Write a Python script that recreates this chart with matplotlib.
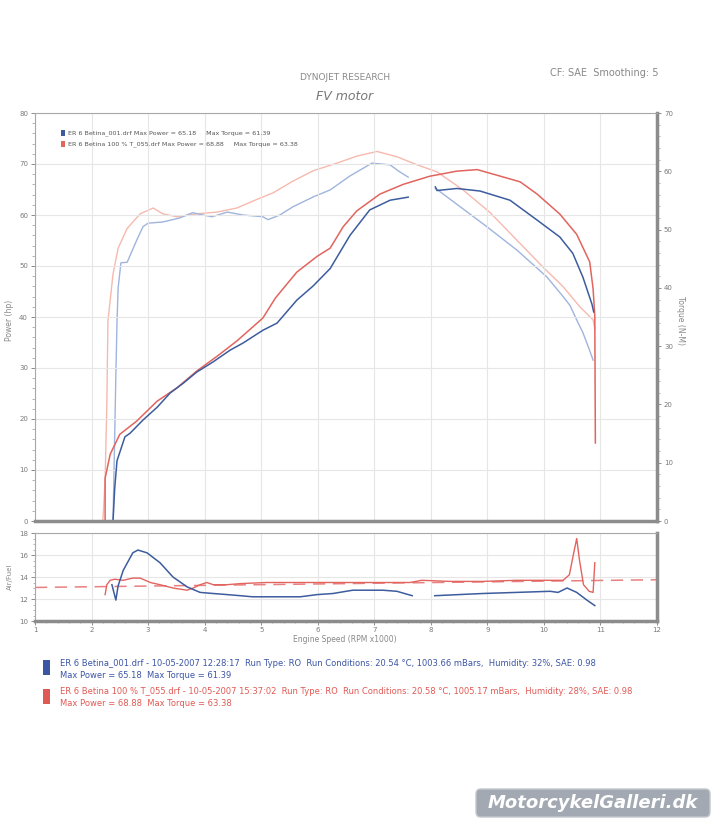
import numpy as np
import matplotlib
matplotlib.use("Agg")
import matplotlib.pyplot as plt
from matplotlib.patches import FancyBboxPatch, Rectangle
from matplotlib.ticker import MultipleLocator

# ---- data (rpm x1000) ----
blue_power_rpm = [2.38, 2.41, 2.45, 2.59, 2.68, 2.91, 3.16, 3.39, 3.62, 3.86, 4.15, 4.45, 4.68, 5.03, 5.28,
                  5.63, 5.92, 6.22, 6.57, 6.92, 7.28, 7.60]
blue_power_hp = [0, 6.5, 11.8, 16.5, 17.2, 19.8, 22.3, 25.1, 27.0, 29.2, 31.2, 33.5, 34.9, 37.4, 38.8,
                 43.3, 46.1, 49.5, 56.0, 61.0, 62.9, 63.5]
blue_power2_rpm = [8.08, 8.11, 8.46, 8.87, 9.40, 9.88, 10.28, 10.51, 10.69, 10.85, 10.88]
blue_power2_hp = [65.5, 64.8, 65.2, 64.7, 62.9, 59.0, 55.7, 52.5, 47.8, 42.5, 41.0]

red_power_rpm = [2.24, 2.24, 2.33, 2.50, 2.80, 3.16, 3.51, 3.86, 4.22, 4.57, 5.03, 5.25, 5.63, 5.99, 6.22,
                 6.45, 6.69, 7.10, 7.51, 7.98, 8.46, 8.82, 9.17, 9.58, 9.88, 10.28, 10.58, 10.81, 10.87,
                 10.90, 10.91]
red_power_hp = [0, 8.4, 13.1, 17.0, 19.6, 23.5, 26.1, 29.4, 32.3, 35.3, 39.8, 43.7, 48.8, 51.9, 53.5,
                57.7, 60.8, 64.1, 66.0, 67.6, 68.6, 68.9, 67.8, 66.5, 64.1, 60.2, 56.2, 50.8, 45.5,
                40.2, 15.3]

blue_torque_rpm = [2.38, 2.40, 2.43, 2.45, 2.47, 2.52, 2.63, 2.80, 2.91, 3.00, 3.26, 3.56, 3.79, 3.97, 4.13,
                   4.40, 4.68, 5.03, 5.12, 5.33, 5.56, 5.92, 6.22, 6.57, 6.96, 7.28, 7.45, 7.60]
blue_torque_nm = [0, 10, 25, 34, 40, 44.3, 44.4, 48.2, 50.5, 51.1, 51.3, 52.0, 52.9, 52.5, 52.2,
                  53.0, 52.5, 52.2, 51.7, 52.5, 53.9, 55.6, 56.8, 59.2, 61.4, 61.1, 59.9, 59.0]
blue_torque2_rpm = [8.08, 8.99, 9.52, 10.05, 10.34, 10.46, 10.58, 10.69, 10.80, 10.87]
blue_torque2_nm = [57.1, 50.5, 46.5, 41.9, 38.5, 37.0, 34.5, 32.3, 29.5, 27.6]

red_torque_rpm = [2.20, 2.24, 2.27, 2.29, 2.38, 2.47, 2.63, 2.86, 3.09, 3.26, 3.51, 3.86, 4.22, 4.57, 4.93,
                  5.21, 5.56, 5.92, 6.34, 6.69, 7.05, 7.40, 7.76, 8.11, 8.57, 9.05, 9.52, 9.98, 10.34,
                  10.64, 10.87, 10.90]
red_torque_nm = [0, 7, 20, 34.3, 42.4, 46.8, 50.2, 52.7, 53.7, 52.7, 52.2, 52.7, 53.0, 53.7, 55.2,
                 56.3, 58.3, 60.1, 61.4, 62.6, 63.4, 62.5, 61.1, 59.9, 56.8, 52.9, 48.2, 43.6, 40.2,
                 36.7, 34.5, 33.0]

blue_afr_rpm = [2.36, 2.43, 2.47, 2.56, 2.73, 2.82, 2.98, 3.21, 3.44, 3.69, 3.92, 4.15, 4.40, 4.63, 4.85,
                5.10, 5.39, 5.69, 5.99, 6.27, 6.62, 7.15, 7.40, 7.67]
blue_afr = [13.3, 11.9, 13.2, 14.6, 16.2, 16.45, 16.2, 15.3, 14.0, 13.1, 12.6, 12.5, 12.4, 12.3, 12.2,
            12.2, 12.2, 12.2, 12.4, 12.5, 12.8, 12.8, 12.7, 12.3]
blue_afr2_rpm = [8.07, 8.92, 9.52, 10.11, 10.25, 10.41, 10.58, 10.76, 10.90]
blue_afr2 = [12.3, 12.5, 12.6, 12.7, 12.6, 13.0, 12.6, 11.9, 11.4]

red_afr_rpm = [2.24, 2.27, 2.33, 2.41, 2.56, 2.73, 2.86, 3.04, 3.21, 3.44, 3.69, 3.80, 3.92, 4.04, 4.15,
               4.40, 4.63, 5.10, 5.69, 6.27, 6.62, 7.15, 7.63, 7.84, 8.34, 8.92, 9.52, 10.11, 10.34,
               10.45, 10.52, 10.58, 10.63, 10.70, 10.80, 10.87, 10.90]
red_afr = [12.4, 13.3, 13.7, 13.8, 13.7, 13.9, 13.9, 13.5, 13.3, 13.0, 12.8, 13.0, 13.3, 13.5, 13.3,
           13.3, 13.4, 13.5, 13.5, 13.5, 13.5, 13.5, 13.5, 13.7, 13.6, 13.6, 13.7, 13.7, 13.7,
           14.2, 16.0, 17.5, 15.5, 13.3, 12.7, 12.6, 15.3]

target_rpm = [1, 12]
target_afr = [13.05, 13.75]

power_ticks = np.arange(0, 81, 10)
torque_ticks = np.arange(0, 71, 10)
afr_ticks = np.arange(10, 19, 2)
rpm_ticks = np.arange(1, 13, 1)

W, H = 728, 836
fig = plt.figure(figsize=(W / 100, H / 100), dpi=100)
fig.patch.set_facecolor("white")

def fx(px):
    return px / W

def fy(py):
    return 1 - py / H

tick_col = "#7a7a7a"
grid_col = "#e6e6e6"

c_bp = "#3d5c9e"
c_bt = "#9fb4de"
c_rp = "#e2645e"
c_rt = "#f6b9ae"

# ---- upper panel: power / torque ----
ax = fig.add_axes([fx(35), fy(521), fx(657 - 35), (521 - 113) / H])
ax.set_xlim(1, 12)
ax.set_ylim(0, 80)
ax.set_yticks(power_ticks)
ax.yaxis.set_minor_locator(MultipleLocator(2))
ax.set_xticks(rpm_ticks)
ax.set_xticklabels([])
ax.tick_params(axis="x", length=0)
ax.tick_params(axis="y", labelsize=5, colors=tick_col, length=3, width=0.6, pad=2)
ax.tick_params(axis="y", which="minor", length=2, width=0.5, colors="#999999")
ax.grid(True, color=grid_col, linewidth=0.8)
ax.set_axisbelow(True)
for s in ["top", "left"]:
    ax.spines[s].set_color("#a8a8a8")
    ax.spines[s].set_linewidth(0.8)
for s in ["bottom", "right"]:
    ax.spines[s].set_color("#8c8c8c")
    ax.spines[s].set_linewidth(2.5)

ax2 = ax.twinx()
ax2.set_ylim(0, 70)
ax2.set_yticks(torque_ticks)
ax2.yaxis.set_minor_locator(MultipleLocator(2))
ax2.tick_params(axis="y", labelsize=5, colors=tick_col, length=3, width=0.6, pad=2)
ax2.tick_params(axis="y", which="minor", length=2, width=0.5, colors="#999999")
for s in ax2.spines.values():
    s.set_visible(False)

ax2.plot(red_torque_rpm, red_torque_nm, color=c_rt, lw=1.0)
ax2.plot(blue_torque_rpm, blue_torque_nm, color=c_bt, lw=1.0)
ax2.plot(blue_torque2_rpm, blue_torque2_nm, color=c_bt, lw=1.0)
ax.plot(red_power_rpm, red_power_hp, color=c_rp, lw=1.1)
ax.plot(blue_power_rpm, blue_power_hp, color=c_bp, lw=1.1)
ax.plot(blue_power2_rpm, blue_power2_hp, color=c_bp, lw=1.1)
ax.set_zorder(ax2.get_zorder() + 1)
ax.patch.set_visible(False)

# legend inside the plot
leg_items = [("ER 6 Betina_001.drf Max Power = 65.18     Max Torque = 61.39", c_bp),
             ("ER 6 Betina 100 % T_055.drf Max Power = 68.88     Max Torque = 63.38", c_rp)]
for i, (txt, col) in enumerate(leg_items):
    yy = fy(133 + i * 11)
    fig.patches.append(Rectangle((fx(61), yy - 0.0035), fx(4), 0.0075, transform=fig.transFigure,
                                 facecolor=col, edgecolor="none"))
    fig.text(fx(68), yy, txt, fontsize=4.6, color="#555555", va="center")

# ---- lower panel: air / fuel ----
axl = fig.add_axes([fx(35), fy(621), fx(657 - 35), (621 - 533) / H])
axl.set_xlim(1, 12)
axl.set_ylim(10, 18)
axl.set_yticks(afr_ticks)
axl.yaxis.set_minor_locator(MultipleLocator(0.5))
axl.set_xticks(rpm_ticks)
axl.xaxis.set_minor_locator(MultipleLocator(0.2))
axl.tick_params(labelsize=5, colors=tick_col, length=3, width=0.6, pad=2)
axl.tick_params(axis="x", pad=1.5)
axl.tick_params(which="minor", length=1.5, width=0.5, colors="#999999")
axl.grid(True, color=grid_col, linewidth=0.8)
axl.set_axisbelow(True)
for s in ["top", "left"]:
    axl.spines[s].set_color("#a8a8a8")
    axl.spines[s].set_linewidth(0.8)
for s in ["bottom", "right"]:
    axl.spines[s].set_color("#8c8c8c")
    axl.spines[s].set_linewidth(2.5)

axl.plot(target_rpm, target_afr, color="#e88080", lw=1.1, ls=(0, (8, 5)))
axl.plot(red_afr_rpm, red_afr, color=c_rp, lw=1.0)
axl.plot(blue_afr_rpm, blue_afr, color=c_bp, lw=1.1)
axl.plot(blue_afr2_rpm, blue_afr2, color=c_bp, lw=1.1)

# ---- labels and titles ----
fig.text(fx(345), fy(78), "DYNOJET RESEARCH", fontsize=6.5, color="#8a8a8a", ha="center", va="center")
fig.text(fx(345), fy(96), "FV motor", fontsize=9, style="italic", color="#777777", ha="center", va="center")
fig.text(fx(658), fy(73), "CF: SAE  Smoothing: 5", fontsize=7, color="#888888", ha="right", va="center")
fig.text(fx(10), fy(320), "Power (hp)", fontsize=5.5, color="#888888", rotation=90, ha="center", va="center")
fig.text(fx(680), fy(320), "Torque (N-M)", fontsize=5.5, color="#888888", rotation=-90, ha="center", va="center")
fig.text(fx(10), fy(577), "Air/Fuel", fontsize=5, color="#888888", rotation=90, ha="center", va="center")
fig.text(fx(345), fy(639), "Engine Speed (RPM x1000)", fontsize=5.5, color="#888888", ha="center", va="center")

# ---- run info below the chart ----
runs = [
    ("ER 6 Betina_001.drf - 10-05-2007 12:28:17  Run Type: RO  Run Conditions: 20.54 \u00b0C, 1003.66 mBars,  Humidity: 32%, SAE: 0.98",
     "Max Power = 65.18  Max Torque = 61.39", "#3b55a5", 663),
    ("ER 6 Betina 100 % T_055.drf - 10-05-2007 15:37:02  Run Type: RO  Run Conditions: 20.58 \u00b0C, 1005.17 mBars,  Humidity: 28%, SAE: 0.98",
     "Max Power = 68.88  Max Torque = 63.38", "#e05a55", 692),
]
for line1, line2, col, py in runs:
    fig.patches.append(Rectangle((fx(43), fy(py + 12)), fx(7), 15 / H, transform=fig.transFigure,
                                 facecolor=col, edgecolor="none"))
    fig.text(fx(60), fy(py), line1, fontsize=6, color=col, va="center")
    fig.text(fx(60), fy(py + 12), line2, fontsize=6, color=col, va="center")

# ---- watermark ----
fig.patches.append(FancyBboxPatch((fx(476), fy(817)), fx(234), 28 / H, transform=fig.transFigure,
                                  boxstyle="round,pad=0,rounding_size=0.006",
                                  facecolor="#a2a9b2", edgecolor="#c4c8cd", linewidth=1))
fig.text(fx(593), fy(803), "MotorcykelGalleri.dk", fontsize=13, fontweight="bold", style="italic",
         color="white", ha="center", va="center")

fig.savefig("out.png", dpi=100, facecolor="white")
